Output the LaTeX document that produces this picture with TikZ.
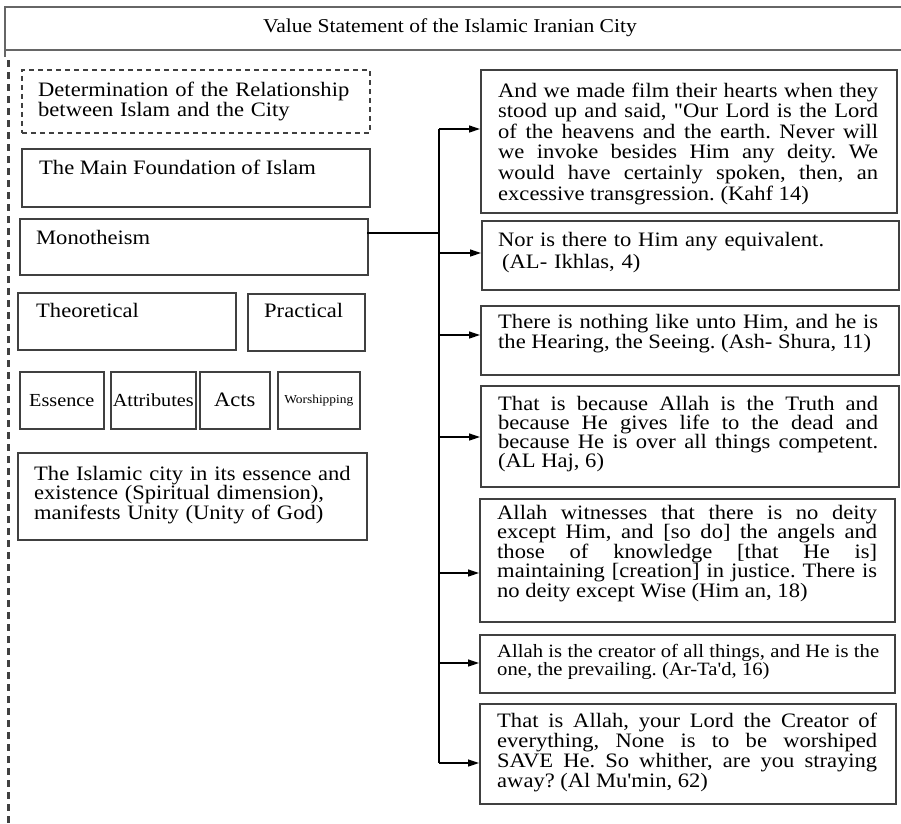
\documentclass[tikz,border=0pt]{standalone}
\usepackage{fontspec}
\setmainfont{Liberation Serif}[FakeStretch=1.1, Ligatures=TeXOff]
\usetikzlibrary{arrows.meta}
\newcommand\fsz[2]{\fontsize{#1}{#2}\selectfont}
\frenchspacing
\definecolor{boxgray}{HTML}{404040}
\definecolor{titlegray}{HTML}{666666}
\tikzset{
  box/.style={draw=boxgray, line width=1.6pt, inner sep=0pt, anchor=north west},
  dbox/.style={box, dash pattern=on 5pt off 4pt},
  cbox/.style={draw=boxgray, line width=1.6pt, inner sep=0pt, anchor=north west, align=center},
  txt/.style={inner sep=0pt, anchor=base west, font=\fsz{20.5}{20.5}},
  jtxt/.style={txt, text width=380pt, align=justify},
  ltxt/.style={txt, text width=345pt, align=left},
  arr/.style={line width=1.3pt, -{Triangle[length=11pt,width=7pt]}},
  conn/.style={line width=1.3pt},
  tline/.style={draw=titlegray, line width=2.2pt},
}
\begin{document}
\frenchspacing
\begin{tikzpicture}[x=1pt,y=-1pt]
\clip (0,0) rectangle (901,823);
% title
\node[inner sep=0pt, font=\fsz{19.6}{20}] (title) at (450,28) {Value Statement of the Islamic Iranian City};
\draw[tline] (5,57) -- (5,7) -- (905,7);
\draw[tline] (5,50) -- (905,50);
\draw[draw=boxgray, line width=2.3pt, dash pattern=on 7pt off 5pt] (8.5,60) -- (8.5,823);
% left column
\node[dbox, minimum width=348pt, minimum height=63pt] (det) at (21,69) {};
\node[ltxt, text width=330pt, font=\fsz{20.5}{20}] (detT) at (38,96) {Determination of the Relationship\\between Islam and the City};
\node[box, minimum width=348pt, minimum height=58pt] (found) at (21,148) {};
\node[txt] (foundT) at (39,174) {The Main Foundation of Islam};
\node[box, minimum width=348pt, minimum height=56pt] (mono) at (19,218) {};
\node[txt] (monoT) at (36,244) {Monotheism};
\node[box, minimum width=218pt, minimum height=57pt] (theo) at (17,292) {};
\node[txt] (theoT) at (36,317) {Theoretical};
\node[box, minimum width=117pt, minimum height=57pt] (prac) at (247,293) {};
\node[txt] (pracT) at (264,317) {Practical};
\node[cbox, minimum width=84pt, minimum height=57pt, font=\fsz{18.4}{18}] (ess) at (19,371) {Essence};
\node[cbox, minimum width=85pt, minimum height=57pt, font=\fsz{18.4}{18}] (attr) at (110,371) {Attributes};
\node[cbox, minimum width=70pt, minimum height=57pt, font=\fsz{20.5}{20}] (acts) at (199,371) {Acts};
\node[cbox, minimum width=82pt, minimum height=57pt, font=\fsz{12.2}{12}] (wor) at (277,371) {Worshipping};
\node[box, minimum width=349pt, minimum height=87pt] (city) at (17,452) {};
\node[ltxt, font=\fsz{20.5}{19.5}] (cityT) at (34,480) {The Islamic city in its essence and\\existence (Spiritual dimension),\\manifests Unity (Unity of God)};
% right column
\node[box, minimum width=416pt, minimum height=143pt] (b1) at (480,69) {};
\node[jtxt, font=\fsz{20.5}{20.6}\frenchspacing] (b1T) at (498,97) {And we made film their hearts when they\linebreak stood up and said, "Our Lord is the Lord\linebreak of the heavens and the earth. Never will\linebreak we invoke besides Him any deity. We\linebreak would have certainly spoken, then, an\linebreak excessive transgression. (Kahf 14)};
\node[box, minimum width=417pt, minimum height=69pt] (b2) at (481,220) {};
\node[jtxt, align=left, font=\fsz{20.5}{22}] (b2T) at (498,246) {Nor is there to Him any equivalent.\\\hspace*{4pt}(AL- Ikhlas, 4)};
\node[box, minimum width=418pt, minimum height=69pt] (b3) at (480,305) {};
\node[jtxt, font=\fsz{20.5}{20}\frenchspacing] (b3T) at (498,328) {There is nothing like unto Him, and he is\linebreak the Hearing, the Seeing. (Ash- Shura, 11)};
\node[box, minimum width=418pt, minimum height=101pt] (b4) at (480,385) {};
\node[jtxt, font=\fsz{20.5}{19}\frenchspacing] (b4T) at (498,410) {That is because Allah is the Truth and\linebreak because He gives life to the dead and\linebreak because He is over all things competent.\linebreak (AL Haj, 6)};
\node[box, minimum width=415pt, minimum height=123pt] (b5) at (479,498) {};
\node[jtxt, font=\fsz{20.5}{19.5}\frenchspacing] (b5T) at (497,519) {Allah witnesses that there is no deity\linebreak except Him, and [so do] the angels and\linebreak those of knowledge [that He is]\linebreak maintaining [creation] in justice. There is\linebreak no deity except Wise (Him an, 18)};
\node[box, minimum width=415pt, minimum height=58pt] (b6) at (479,634) {};
\node[jtxt, text width=382pt, font=\fsz{18.8}{18}\frenchspacing] (b6T) at (497,657) {Allah is the creator of all things, and He is the\linebreak one, the prevailing. (Ar-Ta'd, 16)};
\node[box, minimum width=416pt, minimum height=100pt] (b7) at (479,703) {};
\node[jtxt, font=\fsz{20.5}{20.3}\frenchspacing] (b7T) at (497,727) {That is Allah, your Lord the Creator of\linebreak everything, None is to be worshiped\linebreak SAVE He. So whither, are you straying\linebreak away? (Al Mu'min, 62)};
% connectors
\coordinate (mp) at (367,233);
\coordinate (j) at (439,233);
\coordinate (a1) at (439,129);
\coordinate (a2) at (439,253);
\coordinate (a3) at (439,335);
\coordinate (a4) at (439,437);
\coordinate (a5) at (439,573);
\coordinate (a6) at (439,663);
\coordinate (a7) at (439,763);
\draw[conn] (mp) -- (j);
\draw[conn] (a1) -- (a7);
\draw[arr] (a1) -- (a1 -| b1.west);
\draw[arr] (a2) -- (a2 -| b2.west);
\draw[arr] (a3) -- (a3 -| b3.west);
\draw[arr] (a4) -- (a4 -| b4.west);
\draw[arr] (a5) -- (a5 -| b5.west);
\draw[arr] (a6) -- (a6 -| b6.west);
\draw[arr] (a7) -- (a7 -| b7.west);
\end{tikzpicture}
\end{document}
